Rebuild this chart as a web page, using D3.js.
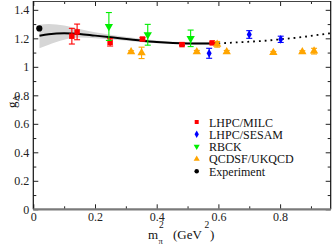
<!DOCTYPE html>
<html><head><meta charset="utf-8">
<script src="https://cdn.jsdelivr.net/npm/d3@7"></script>
<style>
html,body{margin:0;padding:0;background:#fff;}
text{font-family:"Liberation Serif","Times New Roman",serif;}
</style></head>
<body><svg id="c" width="333" height="246"></svg>
<script>
// ---- data ----
const milcX = [0.125, 0.142, 0.249, 0.354, 0.482, 0.580];
const milcY = [1.215, 1.245, 1.172, 1.195, 1.156, 1.168];
const milcErr = [0.055, 0.055, 0.026, 0.010, 0.007, 0.007];

const sesamX = [0.570, 0.700, 0.802];
const sesamY = [1.095, 1.227, 1.193];
const sesamErr = [0.035, 0.027, 0.022];

const rbckX = [0.245, 0.371, 0.510];
const rbckY = [1.283, 1.225, 1.200];
const rbckErr = [0.098, 0.073, 0.058];

const qcdX = [0.317, 0.351, 0.530, 0.596, 0.627, 0.778, 0.872, 0.910];
const qcdY = [1.105, 1.098, 1.105, 1.158, 1.105, 1.100, 1.105, 1.110];
const qcdErr = [0.008, 0.040, 0.010, 0.020, 0.010, 0.008, 0.008, 0.020];

const expX = [0.0195];
const expY = [1.2695];

const fitX = [0.02, 0.05, 0.10, 0.15, 0.20, 0.26, 0.31, 0.40, 0.50, 0.60];
const fitY = [1.218, 1.229, 1.235, 1.231, 1.219, 1.205, 1.194, 1.174, 1.164, 1.163];
const bandLo = [1.130, 1.155, 1.190, 1.205, 1.200, 1.190, 1.182, 1.165, 1.156, 1.155];
const bandHi = [1.295, 1.300, 1.290, 1.265, 1.242, 1.222, 1.207, 1.184, 1.172, 1.172];

const extX = [0.60, 0.68, 0.75, 0.80, 0.88, 0.95, 0.964];
const extY = [1.164, 1.174, 1.183, 1.193, 1.211, 1.232, 1.236];

const xMajor = [0, 0.2, 0.4, 0.6, 0.8];
const xMinor = [0.1, 0.3, 0.5, 0.7, 0.9];
const yMajor = [0, 0.2, 0.4, 0.6, 0.8, 1.0, 1.2, 1.4];
const yMinor = [0.1, 0.3, 0.5, 0.7, 0.9, 1.1, 1.3];

const legendNames = ["LHPC/MILC", "LHPC/SESAM", "RBCK", "QCDSF/UKQCD", "Experiment"];

// ---- layout ----
const L = 33.3, R = 330.7, T = 1, B = 209.3;
const svg = d3.select("#c");
const x = d3.scaleLinear().domain([0, 0.964]).range([L, R]);
const y = d3.scaleLinear().domain([0, 1.462]).range([B, T]);

// band
const idx = d3.range(fitX.length);
svg.append("path")
  .attr("d", d3.area().x(i => x(fitX[i])).y0(i => y(bandLo[i])).y1(i => y(bandHi[i])).curve(d3.curveMonotoneX)(idx))
  .attr("fill", "#d6d6d6");

// fit line
svg.append("path")
  .attr("d", d3.line().x(i => x(fitX[i])).y(i => y(fitY[i])).curve(d3.curveMonotoneX)(idx))
  .attr("fill", "none").attr("stroke", "#000").attr("stroke-width", 2);
svg.append("path")
  .attr("d", d3.line().x(i => x(extX[i])).y(i => y(extY[i])).curve(d3.curveMonotoneX)(d3.range(extX.length)))
  .attr("fill", "none").attr("stroke", "#000").attr("stroke-width", 1.8).attr("stroke-dasharray", "1.8,4");

// axes
function ax(axis, tr, vals, size, fmt) {
  const g = svg.append("g").attr("transform", tr)
    .call(axis.tickValues(vals).tickSize(size).tickSizeOuter(0).tickPadding(4).tickFormat(fmt));
  g.select(".domain").remove();
  g.selectAll("line").attr("stroke", "#222");
  g.selectAll("text").attr("font-size", 12).attr("fill", "#222").attr("font-family", "Liberation Serif, serif");
  return g;
}
const fmt = d => d3.format("~g")(d);
const gb = ax(d3.axisBottom(x), `translate(0,${B})`, xMajor, -5, fmt);
gb.selectAll("text").attr("dy", "0.71em").attr("y", 3);
ax(d3.axisBottom(x), `translate(0,${B})`, xMinor, -3, "");
ax(d3.axisLeft(y), `translate(${L},0)`, yMajor, -5, fmt);
ax(d3.axisLeft(y), `translate(${L},0)`, yMinor, -3, "");
ax(d3.axisTop(x), `translate(0,${T})`, xMajor, -5, "");
ax(d3.axisTop(x), `translate(0,${T})`, xMinor, -3, "");
ax(d3.axisRight(y), `translate(${R},0)`, yMajor, -5, "");
ax(d3.axisRight(y), `translate(${R},0)`, yMinor, -3, "");

// frame
svg.append("line").attr("x1", L).attr("x2", R).attr("y1", T + 0.5).attr("y2", T + 0.5).attr("stroke", "#444").attr("stroke-width", 1);
svg.append("line").attr("x1", L).attr("x2", L).attr("y1", T).attr("y2", B).attr("stroke", "#111").attr("stroke-width", 1.2);
svg.append("line").attr("x1", R).attr("x2", R).attr("y1", T).attr("y2", B).attr("stroke", "#111").attr("stroke-width", 1.2);
svg.append("line").attr("x1", L).attr("x2", R).attr("y1", B).attr("y2", B).attr("stroke", "#7a7a7a").attr("stroke-width", 2.2);

// error bars + markers
const sym = {
  square: d3.symbol().type(d3.symbolSquare).size(30),
  diamond: d3.symbol().type(d3.symbolDiamond).size(22),
  tri: d3.symbol().type(d3.symbolTriangle).size(30),
  circle: d3.symbol().type(d3.symbolCircle).size(30)
};
function series(xs, ys, es, color, shape, rot) {
  const g = svg.append("g");
  xs.forEach((xv, i) => {
    const cx = x(xv), lo = y(ys[i] - es[i]), hi = y(ys[i] + es[i]);
    g.append("line").attr("x1", cx).attr("x2", cx).attr("y1", lo).attr("y2", hi).attr("stroke", color).attr("stroke-width", 1.1);
    [lo, hi].forEach(v => g.append("line").attr("x1", cx - 3).attr("x2", cx + 3).attr("y1", v).attr("y2", v).attr("stroke", color).attr("stroke-width", 1.1));
    g.append("path").attr("d", sym[shape]()).attr("fill", color)
      .attr("transform", `translate(${cx},${y(ys[i])}) rotate(${rot})`);
  });
}
series(milcX, milcY, milcErr, "#ff0000", "square", 0);
series(sesamX, sesamY, sesamErr, "#0000ff", "diamond", 0);
series(rbckX, rbckY, rbckErr, "#00ee00", "tri", 180);
series(qcdX, qcdY, qcdErr, "#ffa500", "tri", 0);
svg.append("path").attr("d", sym.circle()).attr("fill", "#000")
  .attr("transform", `translate(${x(expX[0])},${y(expY[0])})`);

// legend
const legColors = ["#ff0000", "#0000ff", "#00ee00", "#ffa500", "#000"];
const legShapes = [["square", 0], ["diamond", 0], ["tri", 180], ["tri", 0], ["circle", 0]];
legendNames.forEach((n, i) => {
  const cy = 122 + i * 12.3;
  svg.append("path").attr("d", d3.symbol().type(
      {square: d3.symbolSquare, diamond: d3.symbolDiamond, tri: d3.symbolTriangle, circle: d3.symbolCircle}[legShapes[i][0]]).size(16)())
    .attr("fill", legColors[i]).attr("transform", `translate(196.7,${cy}) rotate(${legShapes[i][1]})`);
  svg.append("text").attr("x", 209).attr("y", cy + 4.5).attr("font-size", 12).attr("fill", "#111").text(n);
});

// axis titles
svg.append("text").attr("x", 148).attr("y", 238.5).attr("font-size", 13).attr("fill", "#111").text("m");
svg.append("text").attr("x", 158.5).attr("y", 243.5).attr("font-size", 8.5).attr("fill", "#111").text("π");
svg.append("text").attr("x", 159).attr("y", 227.5).attr("font-size", 9.5).attr("fill", "#111").text("2");
svg.append("text").attr("x", 173).attr("y", 238.5).attr("font-size", 13).attr("fill", "#111").text("(GeV");
svg.append("text").attr("x", 204.5).attr("y", 227.5).attr("font-size", 9.5).attr("fill", "#111").text("2");
svg.append("text").attr("x", 210).attr("y", 238.5).attr("font-size", 13).attr("fill", "#111").text(")");

const yl = svg.append("text").attr("transform", "translate(16,108) rotate(-90)").attr("font-size", 13).attr("fill", "#111");
yl.append("tspan").text("g");
yl.append("tspan").attr("dy", 3).attr("font-size", 9).text("A");
</script></body></html>
